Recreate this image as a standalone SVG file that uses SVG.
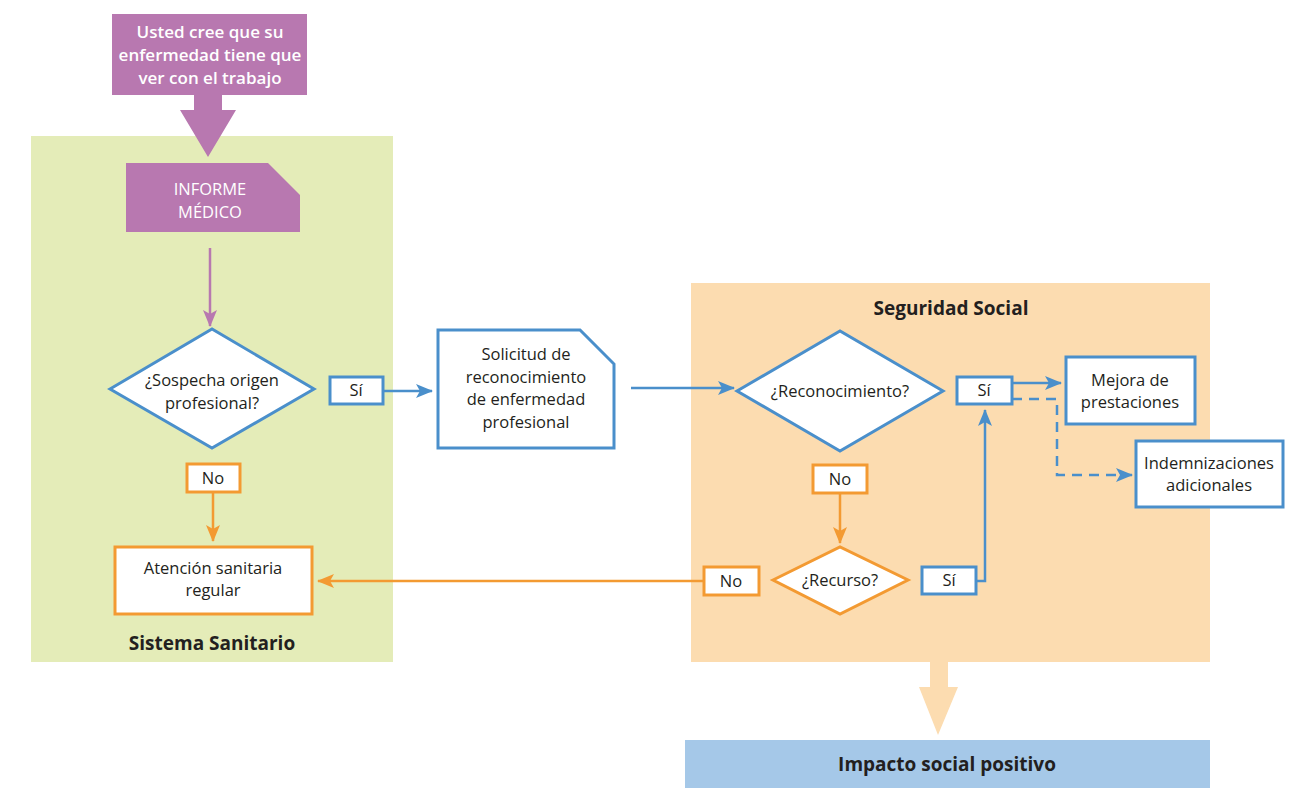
<svg xmlns="http://www.w3.org/2000/svg" width="1316" height="803" viewBox="0 0 1316 803">
<defs>
<style>
.t{font-family:"Open Sans","Noto Sans","Liberation Sans",sans-serif;font-size:16.5px;fill:#231f20;text-anchor:middle}
.b{font-weight:bold;font-size:19px}
.w{fill:#ffffff}
.top{font-size:17px;font-weight:600}
.bl{fill:#ffffff;stroke:#4a8fcb;stroke-width:3}
.or{fill:#ffffff;stroke:#f39a32;stroke-width:3}
.lb{fill:none;stroke:#4a8fcb;stroke-width:2.5}
.lo{fill:none;stroke:#f39a32;stroke-width:2.5}
.lp{fill:none;stroke:#b878b0;stroke-width:2.5}
</style>
<marker id="ab" markerUnits="userSpaceOnUse" markerWidth="18" markerHeight="14" refX="16" refY="7" orient="auto"><path d="M0,0 L17,7 L0,14 L4,7 Z" fill="#4a8fcb"/></marker>
<marker id="ao" markerUnits="userSpaceOnUse" markerWidth="18" markerHeight="14" refX="16" refY="7" orient="auto"><path d="M0,0 L17,7 L0,14 L4,7 Z" fill="#f39a32"/></marker>
<marker id="ap" markerUnits="userSpaceOnUse" markerWidth="18" markerHeight="14" refX="16" refY="7" orient="auto"><path d="M0,0 L17,7 L0,14 L4,7 Z" fill="#b878b0"/></marker>
</defs>
<rect width="1316" height="803" fill="#ffffff"/>

<g id="panel-sanitario">
<rect x="31" y="136" width="362" height="526" fill="#e4ecb8"/>
<text class="t b" x="212" y="650">Sistema Sanitario</text>
</g>
<g id="panel-seguridad">
<rect x="691" y="283" width="519" height="379" fill="#fcdcb0"/>
<text class="t b" x="951" y="315">Seguridad Social</text>
</g>

<g id="connectors">
<polygon points="194,95 222,95 222,110 236,110 208,157 180,110 194,110" fill="#b878b0"/>
<path class="lp" d="M210,248 V326" marker-end="url(#ap)"/>
<path class="lb" d="M383,391 H432" marker-end="url(#ab)"/>
<path class="lb" d="M631,388 H734" marker-end="url(#ab)"/>
<path class="lb" d="M1012,383 H1061" marker-end="url(#ab)"/>
<path class="lb" d="M1012,399 H1057 V475 H1132" stroke-dasharray="10,7" marker-end="url(#ab)"/>
<path class="lb" d="M976,581 H985 V410" marker-end="url(#ab)"/>
<path class="lo" d="M840,493 V543" marker-end="url(#ao)"/>
<path class="lo" d="M704,581 H318" marker-end="url(#ao)"/>
<path class="lo" d="M213,492 V541" marker-end="url(#ao)"/>
<polygon points="930,662 948,662 948,687 958,687 938,735 919,687 930,687" fill="#fcdcb0"/>
</g>

<g id="n-inicio">
<rect x="112" y="14" width="195" height="81" fill="#b878b0"/>
<text class="t w top" x="210" y="38">Usted cree que su</text>
<text class="t w top" x="210" y="61">enfermedad tiene que</text>
<text class="t w top" x="210" y="84">ver con el trabajo</text>
</g>

<g id="n-informe">
<polygon points="126,163 268,163 300,195 300,232 126,232" fill="#b878b0"/>
<text class="t w" x="210" y="195">INFORME</text>
<text class="t w" x="210" y="218">MÉDICO</text>
</g>

<g id="n-sospecha">
<polygon class="bl" points="110,389 212,329 314,389 212,448"/>
<text class="t" x="212" y="386">¿Sospecha origen</text>
<text class="t" x="212" y="409">profesional?</text>
</g>

<g id="n-si1">
<rect class="bl" x="330" y="377" width="53" height="27"/>
<text class="t" x="356" y="396">Sí</text>
</g>

<g id="n-no1">
<rect class="or" x="187" y="464" width="53" height="28"/>
<text class="t" x="213" y="484">No</text>
</g>

<g id="n-atencion">
<rect class="or" x="115" y="547" width="197" height="67"/>
<text class="t" x="213" y="574">Atención sanitaria</text>
<text class="t" x="213" y="596">regular</text>
</g>

<g id="n-solicitud">
<polygon class="bl" points="438,330 580,330 614,364 614,448 438,448"/>
<text class="t" x="526" y="360">Solicitud de</text>
<text class="t" x="526" y="383">reconocimiento</text>
<text class="t" x="526" y="405">de enfermedad</text>
<text class="t" x="526" y="428">profesional</text>
</g>

<g id="n-reconocimiento">
<polygon class="bl" points="737,391 840,331 943,391 840,451"/>
<text class="t" x="840" y="397">¿Reconocimiento?</text>
</g>

<g id="n-si2">
<rect class="bl" x="957" y="377" width="55" height="27"/>
<text class="t" x="984" y="396">Sí</text>
</g>

<g id="n-mejora">
<rect class="bl" x="1066" y="357" width="129" height="67"/>
<text class="t" x="1130" y="386">Mejora de</text>
<text class="t" x="1130" y="408">prestaciones</text>
</g>

<g id="n-indemnizaciones">
<rect class="bl" x="1136" y="441" width="147" height="66"/>
<text class="t" x="1209" y="469">Indemnizaciones</text>
<text class="t" x="1209" y="491">adicionales</text>
</g>

<g id="n-no2">
<rect class="or" x="813" y="465" width="54" height="28"/>
<text class="t" x="840" y="485">No</text>
</g>

<g id="n-recurso">
<polygon class="or" points="773,580 840,547 908,580 840,614"/>
<text class="t" x="840" y="586">¿Recurso?</text>
</g>

<g id="n-no3">
<rect class="or" x="704" y="567" width="55" height="28"/>
<text class="t" x="731" y="587">No</text>
</g>

<g id="n-si3">
<rect class="bl" x="922" y="567" width="54" height="27"/>
<text class="t" x="949" y="586">Sí</text>
</g>

<g id="n-impacto">
<rect x="685" y="740" width="525" height="48" fill="#a5c8e8"/>
<text class="t b" x="947" y="771">Impacto social positivo</text>
</g>
</svg>
